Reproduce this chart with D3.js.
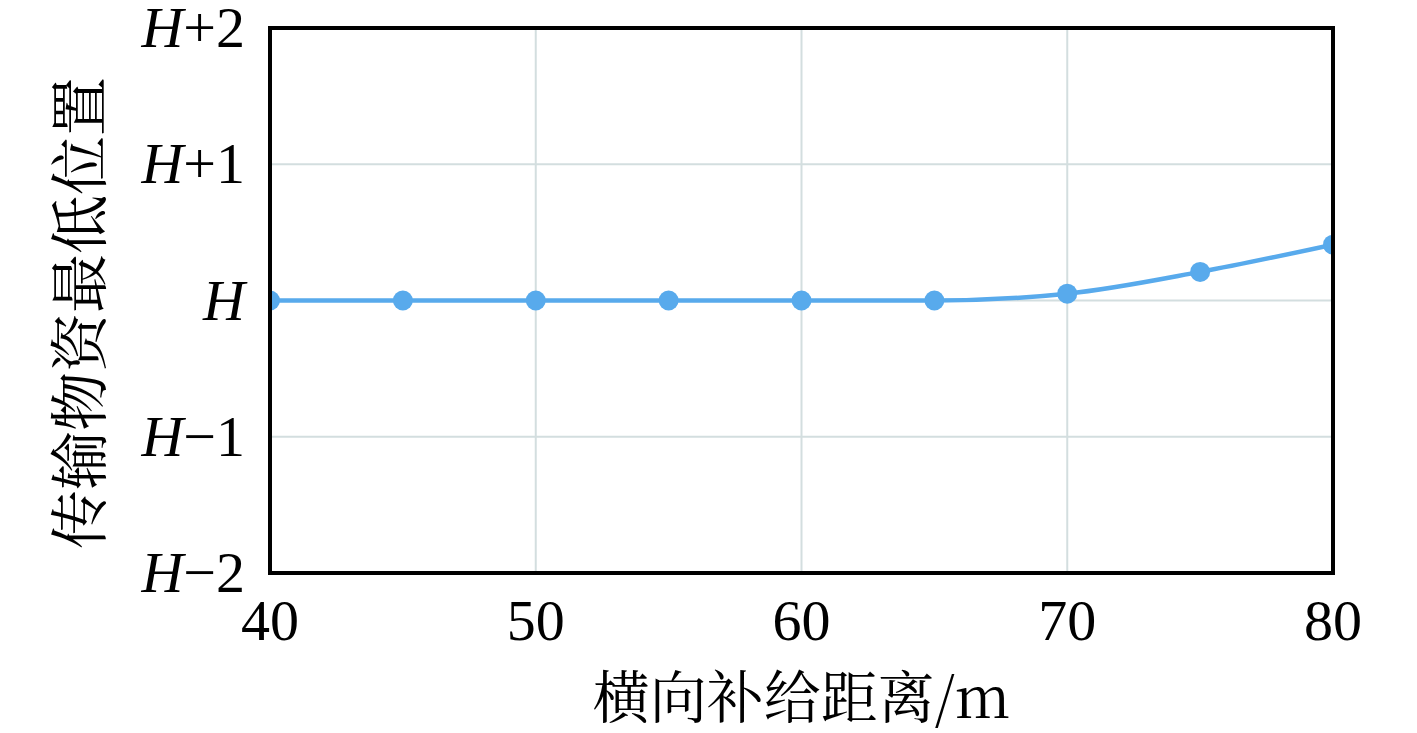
<!DOCTYPE html>
<html>
<head>
<meta charset="utf-8">
<script src="https://cdn.jsdelivr.net/npm/d3@7"></script>
<style>
  html, body { margin: 0; padding: 0; background: #fff; }
  svg { display: block; }
</style>
</head>
<body>
<svg id="chart" width="1417" height="733"></svg>
<script>
// data
var distances = [40, 45, 50, 55, 60, 65, 70, 75, 80];
var offsets = [0, 0, 0, 0, 0, 0, 0.05, 0.21, 0.41];   // offset from H
var xTicks = [40, 50, 60, 70, 80];
var yTicks = [-2, -1, 0, 1, 2];
var yTickLabels = ["H\u22122", "H\u22121", "H", "H+1", "H+2"];

var svg = d3.select("#chart");
var margin = { left: 270, top: 28, right: 84, bottom: 160 };
var W = 1417, Hh = 733;
var pw = W - margin.left - margin.right,
  ph = Hh - margin.top - margin.bottom;

var x = d3.scaleLinear().domain([40, 80]).range([0, pw]);
var y = d3.scaleLinear().domain([-2, 2]).range([ph, 0]);

var serif = "'Liberation Serif', 'Times New Roman', serif";
var cjk = "'Noto Serif CJK SC', 'Noto Sans CJK SC', serif";

var g = svg.append("g")
  .attr("transform", "translate(" + [margin.left, margin.top] + ")");

svg.append("defs").append("clipPath").attr("id", "plotClip")
  .append("rect").attr("width", pw).attr("height", ph);

// grid
g.selectAll("line.vgrid").data(xTicks.slice(1, -1)).enter().append("line")
  .attr("class", "vgrid")
  .attr("x1", function (d) { return x(d); }).attr("x2", function (d) { return x(d); })
  .attr("y1", 0).attr("y2", ph)
  .attr("stroke", "#d3dedf").attr("stroke-width", 2);
g.selectAll("line.hgrid").data(yTicks.slice(1, -1)).enter().append("line")
  .attr("class", "hgrid")
  .attr("x1", 0).attr("x2", pw)
  .attr("y1", function (d) { return y(d); }).attr("y2", function (d) { return y(d); })
  .attr("stroke", "#d3dedf").attr("stroke-width", 2);

// series
var pts = distances.map(function (d, i) { return [d, offsets[i]]; });
var plot = g.append("g").attr("clip-path", "url(#plotClip)");
plot.append("path")
  .datum(pts)
  .attr("fill", "none")
  .attr("stroke", "#58aaec")
  .attr("stroke-width", 4.5)
  .attr("d", d3.line()
    .x(function (d) { return x(d[0]); })
    .y(function (d) { return y(d[1]); })
    .curve(d3.curveMonotoneX));
plot.selectAll("circle").data(pts).enter().append("circle")
  .attr("cx", function (d) { return x(d[0]); })
  .attr("cy", function (d) { return y(d[1]); })
  .attr("r", 10)
  .attr("fill", "#58aaec");

// frame
g.append("rect")
  .attr("width", pw).attr("height", ph)
  .attr("fill", "none").attr("stroke", "#000").attr("stroke-width", 4);

// x tick labels
g.selectAll("text.xt").data(xTicks).enter().append("text")
  .attr("class", "xt")
  .attr("x", function (d) { return x(d); })
  .attr("y", ph + 67)
  .attr("text-anchor", "middle")
  .attr("font-family", serif).attr("font-size", 58)
  .text(function (d) { return d; });

// y tick labels
var yt = g.selectAll("text.yt").data(yTicks).enter().append("text")
  .attr("class", "yt")
  .attr("x", -25)
  .attr("y", function (d) { return y(d) + 19; })
  .attr("text-anchor", "end")
  .attr("font-family", serif).attr("font-size", 58);
yt.append("tspan").attr("font-style", "italic").text("H");
yt.append("tspan").text(function (d, i) { return yTickLabels[i].slice(1); });

// axis titles
svg.append("text")
  .attr("x", margin.left + pw / 2)
  .attr("y", 718)
  .attr("text-anchor", "middle")
  .attr("font-family", cjk).attr("font-size", 57)
  .text("横向补给距离/m");

svg.append("text")
  .attr("transform", "translate(101," + 313 + ") rotate(-90)")
  .attr("text-anchor", "middle")
  .attr("font-family", cjk).attr("font-size", 59)
  .text("传输物资最低位置");
</script>
</body>
</html>
